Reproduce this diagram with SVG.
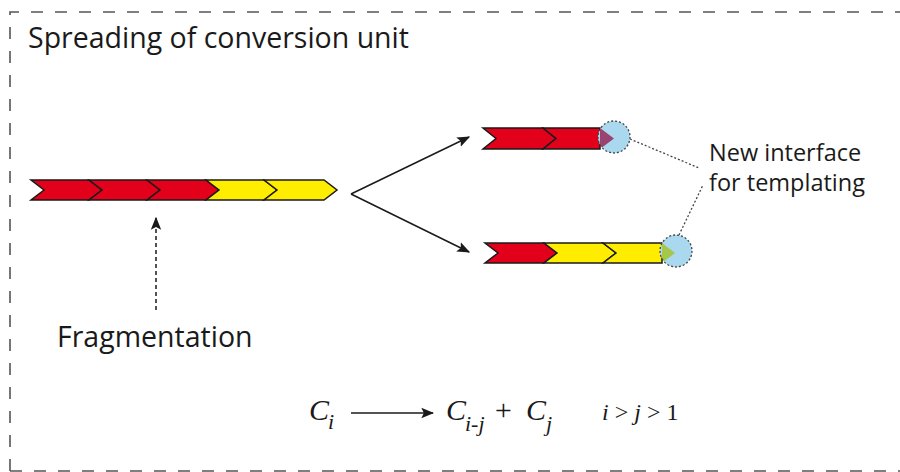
<svg xmlns="http://www.w3.org/2000/svg" width="900" height="472" viewBox="0 0 900 472">
<style>
.lbl{font-family:"Open Sans","Noto Sans","Liberation Sans",sans-serif;fill:#1a1a1a}
.math{font-family:"Liberation Serif","DejaVu Serif",serif;fill:#1a1a1a;font-style:italic}
.red{fill:#e2001a;stroke:#1a1a1a;stroke-width:1.5;stroke-linejoin:miter}
.yel{fill:#ffed00;stroke:#1a1a1a;stroke-width:1.5;stroke-linejoin:miter}
.bubble{fill:#a9d8ef}
.bubble-edge{fill:none;stroke:#444;stroke-width:1.3;stroke-dasharray:2 2}
.leader{fill:none;stroke:#444;stroke-width:1.3;stroke-dasharray:2 2}
.conn{fill:none;stroke:#1a1a1a;stroke-width:1.5}
</style>
<defs>
<marker id="ah2" viewBox="0 0 10 10" refX="9" refY="5" markerWidth="13" markerHeight="13" markerUnits="userSpaceOnUse" orient="auto">
<path d="M0,1 L10,5 L0,9 L2,5 z" fill="#1a1a1a"/>
</marker>
<clipPath id="c1"><circle cx="614" cy="137" r="16"/></clipPath>
<clipPath id="c2"><circle cx="676" cy="251" r="16"/></clipPath>
</defs>

<g id="frame">
<path d="M10,471 L10,12 L900,12" fill="none" stroke="#555" stroke-width="1.6" stroke-dasharray="12 12"/>
<path d="M10,471 L900,471" fill="none" stroke="#555" stroke-width="1.6" stroke-dasharray="12 12"/>
</g>

<g id="title"><text class="lbl" x="28" y="48" font-size="28.5">Spreading of conversion unit</text></g>

<g id="chain-main">
<polygon class="red" points="31,180 89,180 102,190 89,200 31,200 44,190"/>
<polygon class="red" points="89,180 147,180 160,190 147,200 89,200 102,190"/>
<polygon class="red" points="147,180 206,180 219,190 206,200 147,200 160,190"/>
<polygon class="yel" points="206,180 264,180 277,190 264,200 206,200 219,190"/>
<polygon class="yel" points="264,180 324,180 337,190 324,200 264,200 277,190"/>
</g>

<g id="chain-top">
<polygon class="red" points="483,128 543,128 556,138.5 543,149 483,149 496,138.5"/>
<polygon class="red" points="543,128 600,128 600,149 543,149 556,138.5"/>
<circle class="bubble" cx="614" cy="137" r="16"/>
<polygon points="600,128 614,138.5 600,149" fill="#9b4370" clip-path="url(#c1)"/>
<circle class="bubble-edge" cx="614" cy="137" r="16"/>
</g>

<g id="chain-bottom">
<polygon class="red" points="485,243 544,243 557,253 544,263 485,263 498,253"/>
<polygon class="yel" points="544,243 603,243 616,253 603,263 544,263 557,253"/>
<polygon class="yel" points="603,243 662,243 662,263 603,263 616,253"/>
<circle class="bubble" cx="676" cy="251" r="16"/>
<polygon points="662,243 675,253 662,263" fill="#a6c84a" clip-path="url(#c2)"/>
<circle class="bubble-edge" cx="676" cy="251" r="16"/>
</g>

<g id="connectors">
<line class="conn" x1="351" y1="194" x2="469" y2="137" marker-end="url(#ah2)"/>
<line class="conn" x1="351" y1="194" x2="469" y2="252" marker-end="url(#ah2)"/>
<line class="conn" x1="156" y1="310" x2="156" y2="218" stroke-dasharray="4 3" marker-end="url(#ah2)"/>
<line class="leader" x1="630" y1="139" x2="699" y2="168"/>
<line class="leader" x1="679" y1="235" x2="703" y2="185"/>
<line class="conn" x1="351" y1="413" x2="433" y2="413" stroke-width="1.3" marker-end="url(#ah2)"/>
</g>

<g id="labels">
<text class="lbl" x="709" y="161" font-size="23.5">New interface</text>
<text class="lbl" x="709" y="191" font-size="23.5">for templating</text>
<text class="lbl" x="57" y="347" font-size="28.5">Fragmentation</text>
</g>

<g id="formula">
<text class="math" x="309" y="420" font-size="30">C</text>
<text class="math" x="328" y="429" font-size="22">i</text>
<text class="math" x="446" y="420" font-size="30">C</text>
<text class="math" x="465" y="431" font-size="22">i-j</text>
<text class="math" x="493" y="420" font-size="30" font-style="normal">+</text>
<text class="math" x="526" y="420" font-size="30">C</text>
<text class="math" x="546" y="431" font-size="22">j</text>
<text class="math" x="602" y="420" font-size="24"><tspan>i</tspan><tspan font-style="normal"> &gt; </tspan><tspan>j</tspan><tspan font-style="normal"> &gt; 1</tspan></text>
</g>
</svg>
